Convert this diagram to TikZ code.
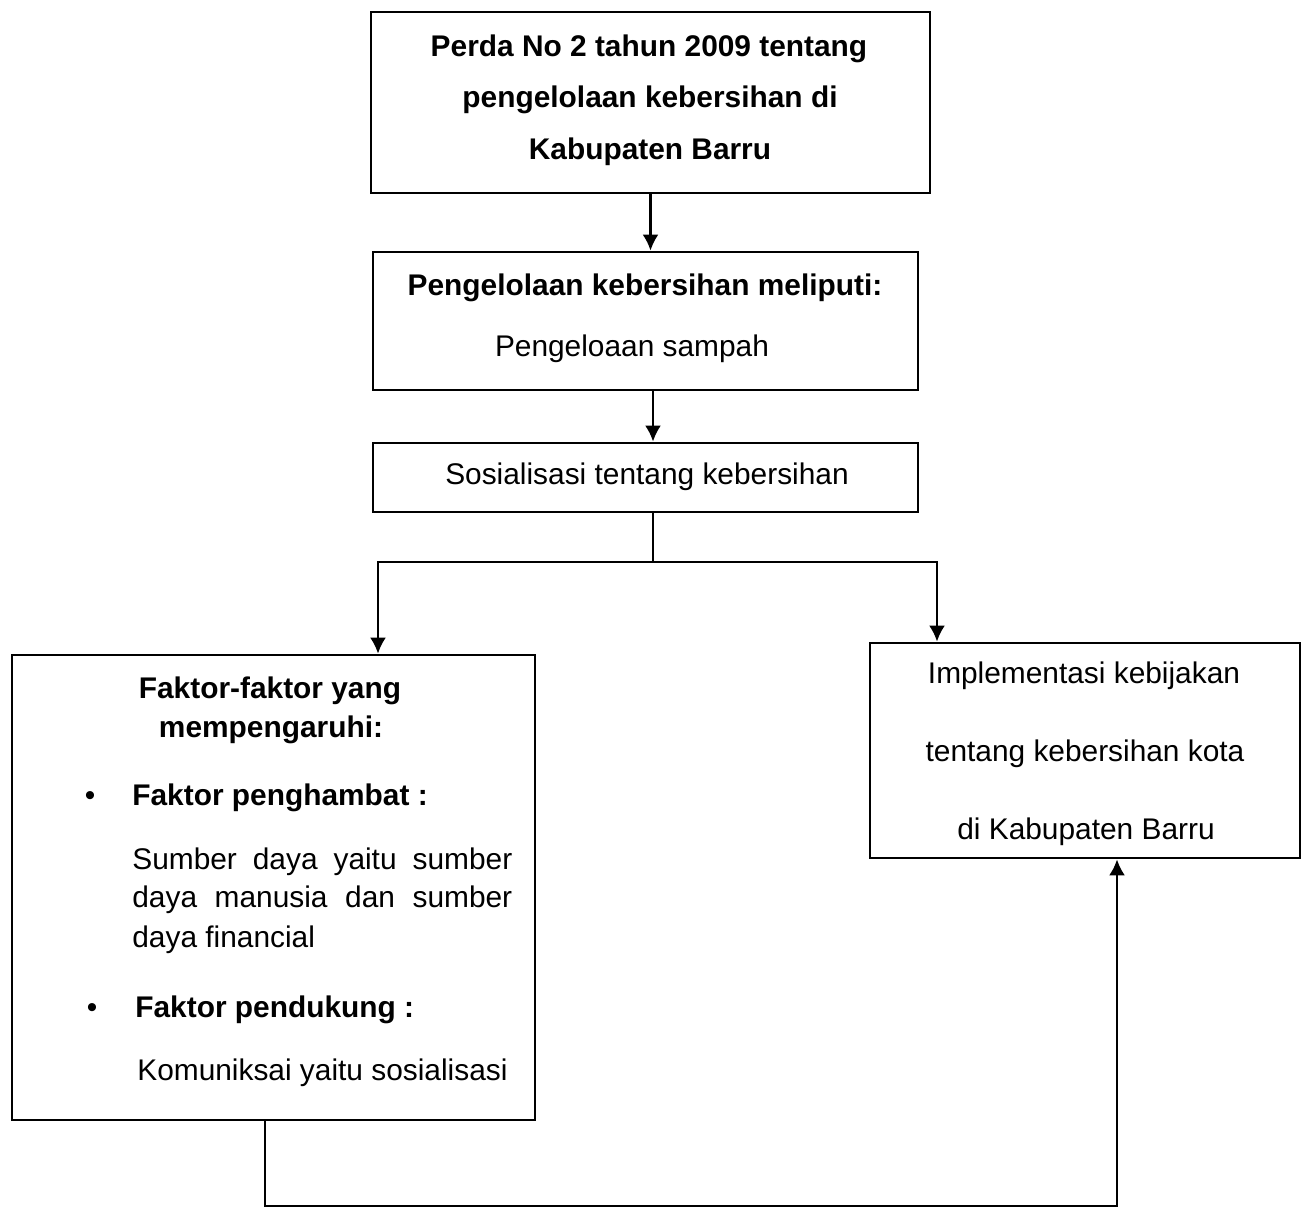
\documentclass[tikz,border=0pt]{standalone}
\usepackage{fontspec}
\setmainfont{Liberation Sans}
\usetikzlibrary{arrows.meta}
\tikzset{
  kotak/.style={draw, line width=1.6pt, inner sep=0pt},
  teks/.style={anchor=base, inner sep=0pt, font=\fontsize{17}{20}\selectfont},
  tebal/.style={anchor=base, inner sep=0pt, font=\fontsize{17}{20}\selectfont\bfseries},
  garis/.style={line width=1.4pt},
  panah/.style={line width=1.4pt, -{Latex[length=3.2mm,width=3.2mm]}}
}
\begin{document}
\begin{tikzpicture}[x=0.02cm, y=-0.02cm]
\useasboundingbox (0,0) rectangle (1302,1210);

% Draw the boxes
\node[kotak, minimum width=11.18cm, minimum height=3.62cm] (perda) at (650.5,102.5) {};
\node[kotak, minimum width=10.9cm, minimum height=2.76cm] (kelola) at (645.5,321) {};
\node[kotak, minimum width=10.9cm, minimum height=1.38cm] (sosial) at (645.5,477.5) {};
\node[kotak, minimum width=10.46cm, minimum height=9.3cm] (faktor) at (273.5,887.5) {};
\node[kotak, minimum width=8.6cm, minimum height=4.3cm] (implementasi) at (1085,750.5) {};

% Texts in the boxes
\node[tebal] (perdaA) at (649,56) {Perda No 2 tahun 2009 tentang};
\node[tebal] (perdaB) at (650,107) {pengelolaan kebersihan di};
\node[tebal] (perdaC) at (650,159) {Kabupaten Barru};
\node[tebal] (kelolaA) at (645,295) {Pengelolaan kebersihan meliputi:};
\node[teks] (kelolaB) at (632,356) {Pengeloaan sampah};
\node[teks] (sosialA) at (647,484) {Sosialisasi tentang kebersihan};
\node[tebal] (faktorA) at (270,698) {Faktor-faktor yang};
\node[tebal] (faktorB) at (271,737) {mempengaruhi:};
\node[teks] (bulletA) at (90,805) {\textbullet};
\node[tebal, anchor=base west] (hambat) at (132,805) {Faktor penghambat :};
\node[teks, anchor=base west] (hambatA) at (132,869) {\makebox[7.6cm][s]{Sumber daya yaitu sumber}};
\node[teks, anchor=base west] (hambatB) at (132,907) {\makebox[7.6cm][s]{daya manusia dan sumber}};
\node[teks, anchor=base west] (hambatC) at (132,947) {daya financial};
\node[teks] (bulletB) at (92,1017) {\textbullet};
\node[tebal, anchor=base west] (dukung) at (135,1017) {Faktor pendukung :};
\node[teks, anchor=base west] (dukungA) at (137,1080) {Komuniksai yaitu sosialisasi};
\node[teks] (implA) at (1084,683) {Implementasi kebijakan};
\node[teks] (implB) at (1085,761) {tentang kebersihan kota};
\node[teks] (implC) at (1086,839) {di Kabupaten Barru};

% Points where the lines turn
\coordinate (cabang) at (653,562);
\coordinate (cabangL) at (378,562);
\coordinate (cabangR) at (937,562);
\coordinate (bawahL) at (265,1206);
\coordinate (bawahR) at (1117,1206);

% Connectors
\draw[panah] (perda.south) -- (kelola.north -| perda.south);
\draw[panah] (kelola.south -| cabang) -- (sosial.north -| cabang);
\draw[garis] (sosial.south -| cabang) -- (cabang);
\draw[panah] (cabang) -- (cabangL) -- (faktor.north -| cabangL);
\draw[panah] (cabang) -- (cabangR) -- (implementasi.north -| cabangR);
\draw[panah] (faktor.south -| bawahL) -- (bawahL) -- (bawahR) -- (implementasi.south -| bawahR);
\end{tikzpicture}
\end{document}
